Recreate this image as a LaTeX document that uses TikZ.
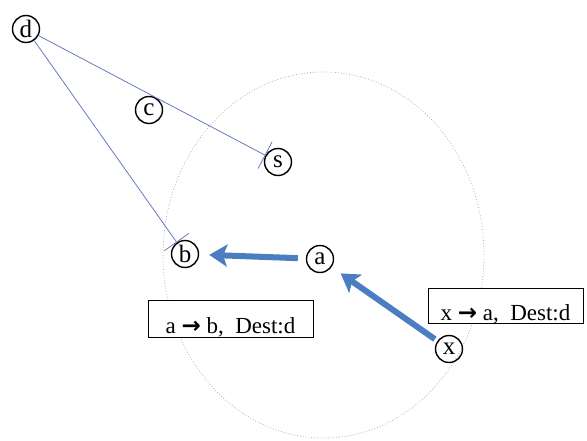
\documentclass[tikz,border=0pt]{standalone}
\usepackage{fontspec}
\setmainfont{Liberation Serif}
\newfontfamily\arrowfont{DejaVu Sans}
\usetikzlibrary{arrows.meta}

\definecolor{hopblue}{RGB}{74,126,193}
\definecolor{linkblue}{RGB}{104,122,192}
\newcommand{\rarr}{{\arrowfont\bfseries\char"2192}}

\tikzset{
  vtx/.style={draw, circle, line width=1.4pt, minimum size=27pt, inner sep=0pt,
    font=\fontsize{25}{29}\selectfont},
  route/.style={draw, fill=white, line width=0.9pt, inner sep=0pt,
    font=\fontsize{23}{27}\selectfont},
  hop/.style={draw=hopblue, line width=6pt, -{Stealth[length=18pt,width=22pt,inset=4pt]}},
  link/.style={draw=linkblue, line width=0.8pt, -{Bar[width=30pt]}},
}

\begin{document}
\begin{tikzpicture}[x=1pt,y=-1pt]
\useasboundingbox (0,0) rectangle (587,441);

% radio range of a
\draw[gray!60, dotted, line width=0.8pt] (323.5,255) ellipse [x radius=160.5pt, y radius=183pt];

\node[vtx] (d) at (26,29) {d};
\node[vtx] (c) at (149,110) {c};
\node[vtx] (s) at (278,162) {s};
\node[vtx] (b) at (185,254) {b};
\node[vtx] (a) at (320,259) {a};
\node[vtx] (x) at (449,349) {x};

\node[route, minimum width=165pt, minimum height=37pt, text height=33pt, text depth=4pt]
  (ab) at (230.5,318.5) {a \rarr{} b,\ \ Dest:d};
\node[route, minimum width=155pt, minimum height=35pt, text height=32pt, text depth=3pt]
  (xa) at (505.5,305.5) {x \rarr{} a,\ \ Dest:d};

\draw[link] (d) -- (s);
\draw[link] (d) -- (b);

\draw[hop, shorten <=8pt, shorten >=10pt] (a) -- (b);
\draw[hop, shorten <=3pt, shorten >=11pt] (x) -- (a);
\end{tikzpicture}
\end{document}
